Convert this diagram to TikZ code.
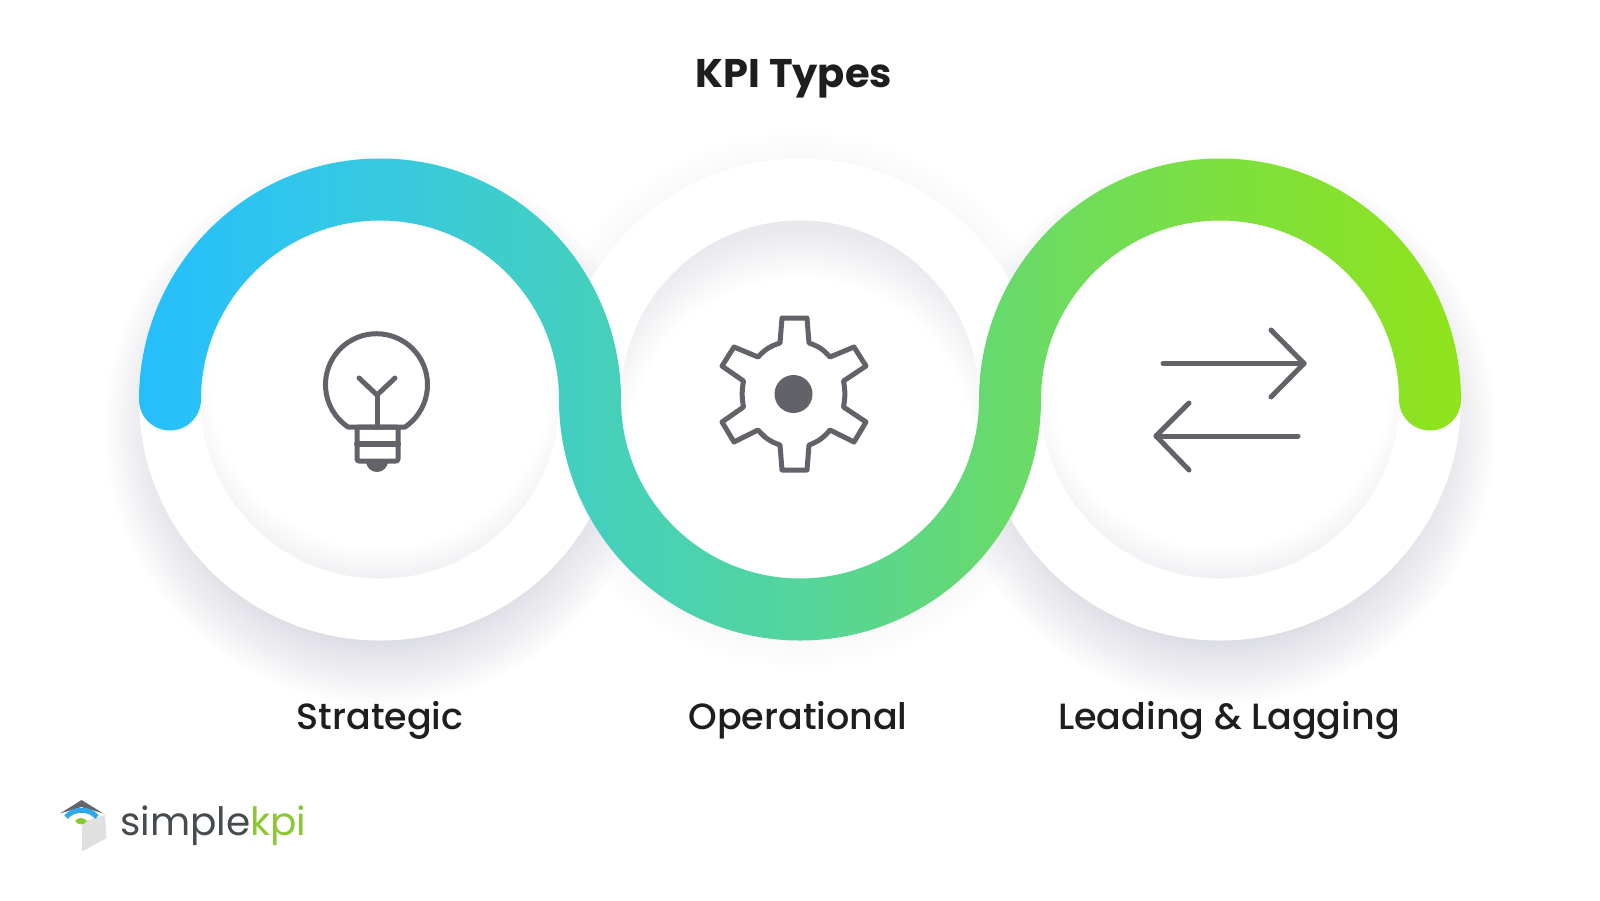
\documentclass[tikz,border=0pt]{standalone}
\usepackage{fontspec}
\setmainfont{Poppins}
\newfontfamily\labelfont{Poppins Medium}
\usetikzlibrary{fadings}

\definecolor{inkblack}{HTML}{1E1E1E}
\definecolor{icongrey}{HTML}{616368}
\definecolor{shadowgrey}{HTML}{D4D4DE}
\definecolor{rimgrey}{HTML}{E8E8ED}
\definecolor{logogrey}{HTML}{464B50}
\definecolor{logogreen}{HTML}{8CC832}
\definecolor{logoblue}{HTML}{2FA8EE}

\definecolor{bandA}{HTML}{25BEFD}
\definecolor{bandB}{HTML}{33C7E8}
\definecolor{bandC}{HTML}{42CFC2}
\definecolor{bandD}{HTML}{54D59C}
\definecolor{bandE}{HTML}{6BDB63}
\definecolor{bandF}{HTML}{7DE03F}
\definecolor{bandG}{HTML}{90E31B}

\pgfdeclarehorizontalshading{kpiband}{100bp}{
    color(0bp)=(bandA); color(25bp)=(bandA); color(32bp)=(bandB);
    color(41bp)=(bandC); color(50bp)=(bandD); color(59bp)=(bandE);
    color(66bp)=(bandF); color(75bp)=(bandG); color(100bp)=(bandG)}
\pgfdeclareradialshading{softmask}{\pgfpointorigin}{
    color(0bp)=(pgftransparent!0); color(19bp)=(pgftransparent!0);
    color(25bp)=(pgftransparent!100); color(50bp)=(pgftransparent!100)}
\pgfdeclarefading{softedge}{\pgfuseshading{softmask}}

\begin{document}
\begin{tikzpicture}[
            x=1pt, y=-1pt,
            % ----- Styles -----
                shadow/.style={fill=shadowgrey, path fading=softedge},
                glow/.style={fill=white, path fading=softedge},
                icon/.style={draw=icongrey, line width=5pt, line cap=round, line join=round},
                lbl/.style={font=\labelfont\fontsize{36.5}{42}\selectfont, text=inkblack, inner sep=0pt, anchor=base},
                ttl/.style={font=\fontsize{40}{48}\selectfont\bfseries, text=inkblack, inner sep=0pt, anchor=base}
            ]
                \useasboundingbox (0,0) rectangle (1600,900);
                \fill[white] (0,0) rectangle (1600,900);

% ===================== Title ===================================
                \node[ttl] (title) at (794,87) {KPI Types};

% ===================== Shadows under the rings =================
                \fill[shadow, fill opacity=0.8] (380,428) circle (276);
                \fill[shadow, fill opacity=0.8] (1220,428) circle (276);
                \fill[shadow, fill opacity=0.3] (800,399.5) circle (268);

% ===================== White rings =============================
                \fill[white] (380,399.5) circle (241);
                \fill[white] (800,399.5) circle (241);
                \fill[white] (1220,399.5) circle (241);

% ===================== Inner discs =============================
                \fill[rimgrey] (380,399.5) circle (179);
                \fill[rimgrey] (800,399.5) circle (179);
                \fill[rimgrey] (1220,399.5) circle (179);
                \begin{scope}
                    \clip (380,399.5) circle (179);
                    \fill[glow] (380,378) circle (222);
                \end{scope}
                \begin{scope}
                    \clip (800,399.5) circle (179);
                    \fill[glow] (800,450) circle (225);
                \end{scope}
                \begin{scope}
                    \clip (1220,399.5) circle (179);
                    \fill[glow] (1220,378) circle (222);
                \end{scope}

% ===================== Gradient band ===========================
                \shade[shading=kpiband]
                (139,399.5) arc[start angle=180, end angle=360, radius=241]
                arc[start angle=180, end angle=0, radius=179]
                arc[start angle=180, end angle=360, radius=241]
                arc[start angle=0, end angle=180, radius=31]
                arc[start angle=360, end angle=180, radius=179]
                arc[start angle=0, end angle=180, radius=241]
                arc[start angle=360, end angle=180, radius=179]
                arc[start angle=0, end angle=180, radius=31] -- cycle;

% ===================== Icon: bulb ==============================
                \draw[icon] (405,427) arc[start angle=56, end angle=-236, radius=51] -- cycle;
                \draw[icon] (377,427) -- (377,395);
                \draw[icon] (359,378) -- (377,395) -- (395,378);
                \draw[icon, rounded corners=2pt] (357,427) rectangle (398,461);
                \draw[icon, line width=6pt] (357,444) -- (398,444);
                \fill[icongrey] (366,461) arc[start angle=180, end angle=0, radius=11] -- cycle;

% ===================== Icon: gear ==============================
                \draw[icon] (782,318) -- (807,318) -- (809,343) to[bend left=15] (830,357)
                -- (854,347) -- (866,366) -- (843.5,381) to[bend left=10] (843.5,407)
                -- (866,422) -- (854,442) -- (830,430) to[bend left=15] (809,445)
                -- (807,470) -- (782,470) -- (780,445) to[bend left=15] (758,430)
                -- (734,442) -- (722,422) -- (743.5,407) to[bend left=10] (743.5,381)
                -- (722,366) -- (734,347) -- (758,357) to[bend left=15] (780,343) -- cycle;
                \fill[icongrey] (793.5,394) circle (19);

% ===================== Icon: arrows ============================
                \draw[icon] (1163,363.5) -- (1304,363.5);
                \draw[icon] (1271,330) -- (1304,363.5) -- (1271,397);
                \draw[icon] (1298,436) -- (1156,436);
                \draw[icon] (1189,403) -- (1156,436) -- (1189,470);

% ===================== Labels ==================================
                \node[lbl] (strategic)   at (380,729)  {Strategic};
                \node[lbl] (operational) at (798,729)  {Operational};
                \node[lbl] (leading)     at (1229,729) {Leading \& Lagging};

% ===================== Logo ====================================
                \fill[black!12] (82,822) -- (105,815) -- (106.5,838) -- (82,851.5) -- cycle;
                \fill[logogrey!85] (60,813.5) -- (81.5,800) -- (103.5,813.5) -- (81.5,807) -- cycle;
                \draw[logoblue, line width=5pt] (66,817) .. controls (74,808) and (89,808) .. (97,817);
                \fill[logogreen] (75,821) .. controls (78,817) and (84,817) .. (87,821)
                .. controls (84,825.5) and (78,825.5) .. (75,821) -- cycle;
                \node[inner sep=0pt, anchor=base west, font=\fontsize{39}{45}\selectfont]
                (logo) at (120,835) {\textcolor{logogrey}{simple}\textcolor{logogreen}{kpi}};

            \end{tikzpicture}
\end{document}
